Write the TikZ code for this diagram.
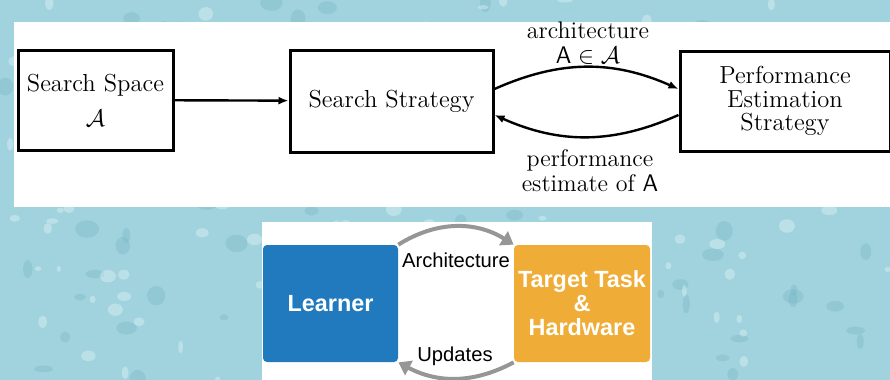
\documentclass[tikz,border=0pt]{standalone}
\usepackage{fontspec}
\newfontfamily\arialfont{Liberation Sans}
\usetikzlibrary{arrows.meta}

\definecolor{water}{RGB}{160,211,221}
\definecolor{drop}{RGB}{118,182,198}
\definecolor{learnerblue}{RGB}{33,122,190}
\definecolor{taskorange}{RGB}{239,173,55}
\definecolor{loopgray}{RGB}{150,150,150}

\begin{document}
\begin{tikzpicture}[
    x=0.5pt, y=-0.5pt,
    block/.style={draw,line width=1.5pt,align=center,inner sep=0pt,font=\fontsize{12.3}{11.8}\selectfont},
    tile/.style={rounded corners=2pt,inner sep=0pt,align=center,text=white,font=\arialfont\bfseries\fontsize{11.7}{12}\selectfont},
    lbl/.style={align=center,inner sep=0pt,font=\fontsize{12}{12.5}\selectfont},
    tag/.style={inner sep=0pt,font=\arialfont\fontsize{10.1}{12}\selectfont},
    flow/.style={line width=1.2pt,-{Latex[length=5pt,width=4pt]}},
    loop/.style={loopgray,line width=2pt,-{Triangle[length=6pt,width=8pt]}}
    ]

    % background with droplets:
    \useasboundingbox (0,0) rectangle (890,380);
    \fill[water] (0,0) rectangle (890,380);
    \pgfmathsetseed{7}
    \foreach \i in {1,...,140}
    \fill[drop,opacity=0.35] (rnd*890, rnd*380) ellipse ({3+rnd*9} and {3+rnd*7});
    \foreach \i in {1,...,120}
    \fill[white,opacity=0.3] (rnd*890, rnd*380) ellipse ({2+rnd*6} and {2+rnd*5});

    % white panels:
    \fill[white] (14,22) rectangle (890,207);
    \fill[white] (262,222) rectangle (652,380);

    % upper diagram:
    \node (space) at (95.5,100) [block,minimum width=77.5pt,minimum height=50pt] {\raisebox{-2pt}{Search Space}\\[6pt]$\mathcal{A}$};
    \node (strategy) at (391.5,101) [block,minimum width=101.5pt,minimum height=51pt] {Search Strategy};
    \node (perf) at (785,101) [block,minimum width=105pt,minimum height=50pt] {Performance\\Estimation\\Strategy};

    \node (archlbl) at (588,43) [lbl] {architecture\\$\mathsf{A}\in\mathcal{A}$};
    \node (perflbl) at (590,171) [lbl] {performance\\estimate of $\mathsf{A}$};

    \draw [flow] (space) -- (strategy);
    \draw [flow] ([yshift=6pt]strategy.east) to[bend left=24] ([yshift=6pt]perf.west);
    \draw [flow] ([yshift=-7pt]perf.west) to[bend left=24] ([yshift=-7pt]strategy.east);

    % lower diagram:
    \node (learner) at (330.5,303.5) [tile,fill=learnerblue,minimum width=67.5pt,minimum height=58.5pt] {Learner};
    \node (task) at (582,303.5) [tile,fill=taskorange,minimum width=68pt,minimum height=58.5pt] {Target Task\\\&\\Hardware};

    \node (archtag) at (456,260) [tag] {Architecture};
    \node (updtag) at (455,356) [tag] {Updates};

    \draw [loop] (learner.north east) to[bend left=32] (task.north west);
    \draw [loop] (task.south west) to[bend left=28] (learner.south east);

  \end{tikzpicture}
\end{document}
